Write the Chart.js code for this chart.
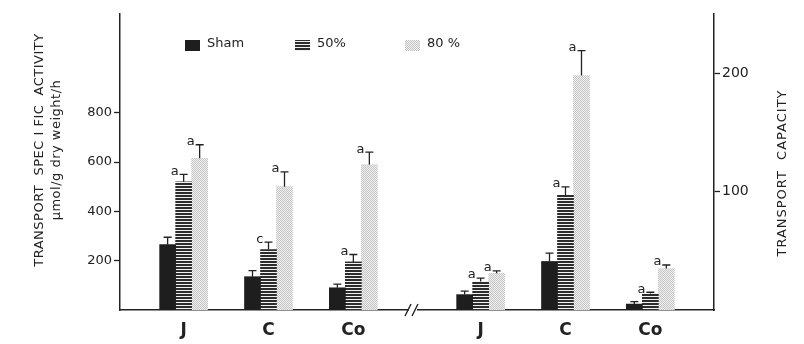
<!DOCTYPE html>
<html>
<head>
<meta charset="utf-8">
<script src="https://cdn.jsdelivr.net/npm/chart.js@4"></script>
<style>
  body { margin: 0; background: #fff; }
  #wrap { width: 804px; height: 344px; position: relative; }
</style>
</head>
<body>
<div id="wrap"><canvas id="chart"></canvas></div>
<script>
// x slots: left group = specific activity, right group = capacity, blank slots make the gaps
const slotLabels = ['', 'J', '', 'C', '', 'Co', '', '', 'J', '', 'C', '', 'Co', ''];
const activitySlots = [1, 3, 5];
const capacitySlots = [8, 10, 12];

const seriesNames = ['Sham', '50%', '80 %'];

// transport specific activity (left axis)
const shamActivity = [265, 135, 90];
const shamActivityErr = [295, 160, 105];
const fiftyActivity = [520, 245, 195];
const fiftyActivityErr = [550, 275, 225];
const eightyActivity = [615, 500, 590];
const eightyActivityErr = [670, 560, 640];

// transport capacity (right axis)
const shamCapacity = [13, 41, 5];
const shamCapacityErr = [16, 48, 7];
const fiftyCapacity = [24, 97, 14];
const fiftyCapacityErr = [27, 104, 15];
const eightyCapacity = [31, 198, 35];
const eightyCapacityErr = [33, 219, 38];

// significance letters
const shamLetters = ['', '', ''];
const fiftyActivityLetters = ['a', 'c', 'a'];
const eightyActivityLetters = ['a', 'a', 'a'];
const fiftyCapacityLetters = ['a', 'a', 'a'];
const eightyCapacityLetters = ['a', 'a', 'a'];

const leftTicks = [200, 400, 600, 800];
const rightTicks = [100, 200];

const leftTitle = ['TRANSPORT  SPEC I FIC  ACTIVITY', 'µmol/g dry weight/h'];
const rightTitle = 'TRANSPORT  CAPACITY';

function place(values, slots) {
    const out = slotLabels.map(() => null);
    slots.forEach((s, i) => { out[s] = values[i]; });
    return out;
}

function makePattern(w, h, draw) {
    const c = document.createElement('canvas');
    c.width = w; c.height = h;
    const g = c.getContext('2d');
    draw(g);
    return g.createPattern(c, 'repeat');
}

const black = '#1e1e1e';
const stripes = makePattern(4, 3, (g) => {
    g.fillStyle = '#f2f2f2'; g.fillRect(0, 0, 4, 3);
    g.fillStyle = '#2c2c2c'; g.fillRect(0, 0, 4, 2);
});
const dots = makePattern(2, 2, (g) => {
    g.fillStyle = '#f1f1f1'; g.fillRect(0, 0, 2, 2);
    g.fillStyle = '#c4c4c4'; g.fillRect(0, 0, 1, 1); g.fillRect(1, 1, 1, 1);
});
const fills = [black, stripes, dots];

function bar(label, values, slots, err, letters, fill, axis) {
    return {
        label: label,
        data: place(values, slots),
        errTop: place(err, slots),
        letters: place(letters, slots),
        backgroundColor: fill,
        borderWidth: 0,
        barThickness: 16,
        skipNull: true,
        yAxisID: axis
    };
}

const datasets = [
    bar(seriesNames[0], shamActivity, activitySlots, shamActivityErr, shamLetters, fills[0], 'y'),
    bar(seriesNames[1], fiftyActivity, activitySlots, fiftyActivityErr, fiftyActivityLetters, fills[1], 'y'),
    bar(seriesNames[2], eightyActivity, activitySlots, eightyActivityErr, eightyActivityLetters, fills[2], 'y'),
    bar(seriesNames[0], shamCapacity, capacitySlots, shamCapacityErr, shamLetters, fills[0], 'y2'),
    bar(seriesNames[1], fiftyCapacity, capacitySlots, fiftyCapacityErr, fiftyCapacityLetters, fills[1], 'y2'),
    bar(seriesNames[2], eightyCapacity, capacitySlots, eightyCapacityErr, eightyCapacityLetters, fills[2], 'y2')
];

const ink = '#222';

// error bars + letters
const errorBars = {
    id: 'errorBars',
    afterDatasetsDraw(chart) {
        const ctx = chart.ctx;
        ctx.save();
        ctx.strokeStyle = ink;
        ctx.fillStyle = ink;
        ctx.lineWidth = 1.3;
        ctx.font = '13px "DejaVu Sans"';
        ctx.textAlign = 'right';
        ctx.textBaseline = 'middle';
        chart.data.datasets.forEach((ds, di) => {
            const meta = chart.getDatasetMeta(di);
            const scale = chart.scales[ds.yAxisID];
            meta.data.forEach((el, i) => {
                if (ds.data[i] === null) return;
                const yTop = scale.getPixelForValue(ds.errTop[i]);
                ctx.beginPath();
                ctx.moveTo(el.x, el.y);
                ctx.lineTo(el.x, yTop);
                ctx.moveTo(el.x - 4, yTop);
                ctx.lineTo(el.x + 4, yTop);
                ctx.stroke();
                if (ds.letters[i]) ctx.fillText(ds.letters[i], el.x - 5, yTop - 3);
            });
        });
        ctx.restore();
    }
};

function rotatedText(ctx, text, x, y) {
    ctx.save();
    ctx.translate(x, y);
    ctx.rotate(-Math.PI / 2);
    ctx.fillText(text, 0, 0);
    ctx.restore();
}

// legend, axis break and axis titles
const extras = {
    id: 'extras',
    afterDraw(chart) {
        const ctx = chart.ctx;
        const area = chart.chartArea;
        ctx.save();
        ctx.font = '13px "DejaVu Sans"';
        ctx.textBaseline = 'middle';
        ctx.textAlign = 'left';
        for (let i = 0; i < 3; i++) {
            const x = area.left + 65 + i * 110;
            const y = area.top + 31;
            ctx.fillStyle = fills[i];
            ctx.fillRect(x, y - 5, 15, 11);
            ctx.fillStyle = ink;
            ctx.fillText(seriesNames[i], x + 22, y - 1);
        }

        const xb = chart.scales.x.getPixelForValue(6.5) - 4;
        const yb = area.bottom;
        ctx.fillStyle = '#fff';
        ctx.fillRect(xb - 4, yb - 2, 8, 4);
        ctx.strokeStyle = ink;
        ctx.lineWidth = 1.4;
        ctx.beginPath();
        ctx.moveTo(xb - 8, yb + 6); ctx.lineTo(xb - 2, yb - 6);
        ctx.moveTo(xb - 1, yb + 6); ctx.lineTo(xb + 5, yb - 6);
        ctx.stroke();

        ctx.fillStyle = ink;
        ctx.textAlign = 'center';
        ctx.font = '13px "DejaVu Sans"';
        ctx.letterSpacing = '0.5px';
        rotatedText(ctx, leftTitle[0], 40, 150);
        rotatedText(ctx, leftTitle[1], 57, 150);
        ctx.letterSpacing = '1px';
        rotatedText(ctx, rightTitle, 783, 173);
        ctx.restore();
    }
};

new Chart(document.getElementById('chart'), {
    type: 'bar',
    data: { labels: slotLabels, datasets: datasets },
    plugins: [errorBars, extras],
    options: {
        responsive: true,
        maintainAspectRatio: false,
        animation: false,
        layout: { padding: { top: 14, left: 0, right: 0, bottom: 0 } },
        plugins: { legend: { display: false }, tooltip: { enabled: false } },
        scales: {
            x: {
                offset: true,
                grid: { display: true, drawOnChartArea: false, drawTicks: false },
                border: { display: true, color: ink, width: 1.5 },
                ticks: {
                    autoSkip: false, maxRotation: 0, padding: 10, color: ink,
                    font: { family: '"DejaVu Sans"', size: 17, weight: 'bold' }
                },
                afterFit: (s) => { s.height = 34; }
            },
            y: {
                position: 'left',
                min: 0, max: 1200,
                afterBuildTicks: (s) => { s.ticks = leftTicks.map(v => ({ value: v })); },
                grid: { display: true, drawOnChartArea: false, tickLength: 6, color: ink, tickWidth: 1.3 },
                border: { display: true, color: ink, width: 1.5 },
                ticks: { padding: 2, color: ink, font: { family: '"DejaVu Sans"', size: 13 } },
                afterFit: (s) => { s.width = 120; }
            },
            y2: {
                position: 'right',
                min: 0, max: 250,
                afterBuildTicks: (s) => { s.ticks = rightTicks.map(v => ({ value: v })); },
                grid: { display: true, drawOnChartArea: false, tickLength: 6, color: ink, tickWidth: 1.3 },
                border: { display: true, color: ink, width: 1.5 },
                ticks: { padding: 2, color: ink, font: { family: '"DejaVu Sans"', size: 14 } },
                afterFit: (s) => { s.width = 90; }
            }
        }
    }
});
</script>
</body>
</html>
